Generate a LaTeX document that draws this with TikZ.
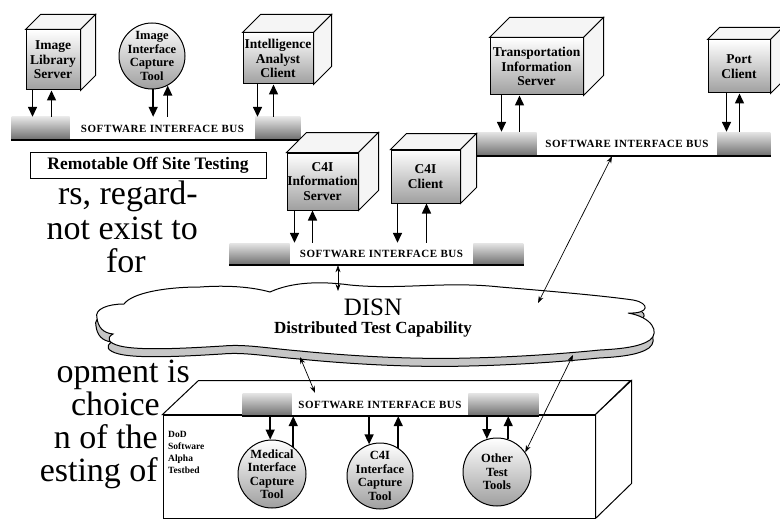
\documentclass[tikz,border=0pt]{standalone}
\usepackage{fontspec}
\setmainfont{Liberation Serif}
\usetikzlibrary{positioning,arrows.meta,calc}

\begin{document}
\begin{tikzpicture}[x=1pt,y=-1pt,
    every node/.style={font=\bfseries\fontsize{13.5}{14.5}\selectfont},
    cubeface/.style={draw,line width=1pt,top color=white,bottom color=gray!75,align=center,inner sep=0pt},
    cubeside/.style={draw,line width=1pt,fill=gray!8},
    toolcircle/.style={draw,circle,line width=1pt,top color=white,bottom color=gray!75,align=center,inner sep=-9pt,
                       font=\bfseries\fontsize{12.5}{13.5}\selectfont},
    buslabel/.style={fill=white,minimum height=23pt,inner sep=0pt,
                     font=\bfseries\fontsize{11}{11}\selectfont\addfontfeatures{LetterSpace=5}},
    busend/.style={top color=gray!20,bottom color=gray!85!black,minimum height=23pt,inner sep=0pt},
    busarrow/.style={line width=1.5pt,-{Triangle[width=9pt,length=10pt]}},
    linkarrow/.style={line width=0.7pt,{Stealth[length=7pt,width=5pt]}-{Stealth[length=7pt,width=5pt]}},
    bodytext/.style={font=\mdseries\fontsize{34}{36}\selectfont,anchor=base east,inner sep=0pt}]
    \useasboundingbox (0,0) rectangle (780,519);
    \clip (0,0) rectangle (780,519);

    % page text behind the figure
    \node[bodytext] (t1) at (198,204) {rs, regard-};
    \node[bodytext] (t2) at (198,239) {not exist to};
    \node[bodytext] (t3) at (146,272) {for};
    \node[bodytext] (t4) at (190,382) {opment is};
    \node[bodytext] (t5) at (160,415) {choice};
    \node[bodytext] (t6) at (158,448) {n of the};
    \node[bodytext] (t7) at (158,481) {esting of};

    % remote site, top left
    \node[cubeface,minimum width=54pt,minimum height=60pt] (ils) at (53,60) {Image\\Library\\Server};
    \node[toolcircle,minimum size=66pt] (iict) at (152,56) {Image\\Interface\\Capture\\Tool};
    \node[cubeface,minimum width=70pt,minimum height=51pt] (iac) at (278,58.5) {Intelligence\\Analyst\\Client};

    \node[buslabel,minimum width=185pt] (bus1) at (162.5,128.5) {SOFTWARE INTERFACE BUS};
    \node[busend,minimum width=58pt,left=0pt of bus1] (bus1w) {};
    \node[busend,minimum width=45pt,right=0pt of bus1] (bus1e) {};
    \draw[line width=2pt] (bus1w.south west) -- (bus1e.south east);

    \node[draw,line width=0.8pt,minimum width=236pt,minimum height=26pt,
          font=\bfseries\fontsize{17.5}{19}\selectfont] (remote) at (148,165) {Remotable Off Site Testing};

    % remote site, top right
    \node[cubeface,minimum width=93pt,minimum height=57pt] (tis) at (536.5,66.5) {Transportation\\Information\\Server};
    \node[cubeface,minimum width=62pt,minimum height=53pt] (pc) at (739,66.5) {Port\\Client};

    \node[buslabel,minimum width=180pt,minimum height=24pt] (bus2) at (627,144) {SOFTWARE INTERFACE BUS};
    \node[busend,minimum width=60pt,minimum height=24pt,left=0pt of bus2] (bus2w) {};
    \node[busend,minimum width=53pt,minimum height=24pt,right=0pt of bus2] (bus2e) {};
    \draw[line width=2pt] (bus2w.south west) -- (bus2e.south east);

    % C4I site, middle
    \node[cubeface,minimum width=71pt,minimum height=57pt] (cis) at (322.5,181.5) {C4I\\Information\\Server};
    \node[cubeface,minimum width=69pt,minimum height=53pt] (cc) at (425.5,176.5) {C4I\\Client};

    \node[buslabel,minimum width=183pt,minimum height=22pt] (bus3) at (381.5,254) {SOFTWARE INTERFACE BUS};
    \node[busend,minimum width=60pt,minimum height=22pt,left=0pt of bus3] (bus3w) {};
    \node[busend,minimum width=50pt,minimum height=22pt,right=0pt of bus3] (bus3e) {};
    \draw[line width=2pt] (bus3w.south west) -- (bus3e.south east);

    % cube tops and sides
    \foreach \c/\d in {ils/15,iac/18,tis/20,pc/12,cis/20,cc/16}{
        \draw[cubeside] (\c.north west) -- ++(\d,-\d) -- ([shift={(\d,-\d)}]\c.north east) -- (\c.north east) -- cycle;
        \draw[cubeside] (\c.north east) -- ++(\d,-\d) -- ([shift={(\d,-\d)}]\c.south east) -- (\c.south east) -- cycle;
    }

    % DISN cloud
    \draw[line width=1pt,fill=white,
          preaction={draw,line width=1pt,fill=gray!45,transform canvas={shift={(-1pt,-8pt)}}}]
        (97,318) .. controls (94,309) and (108,304) .. (124,304)
        .. controls (132,293) and (165,287) .. (200,287)
        .. controls (228,285) and (252,287) .. (270,292)
        .. controls (292,282) and (320,281) .. (350,285)
        .. controls (400,290) and (445,281) .. (500,287)
        .. controls (560,292) and (605,296) .. (633,300)
        .. controls (650,303) and (650,314) .. (628,313)
        .. controls (652,317) and (660,332) .. (650,340)
        .. controls (640,347) and (620,349) .. (600,350)
        .. controls (560,354) and (515,357) .. (470,358)
        .. controls (400,360) and (330,354) .. (300,351)
        .. controls (265,348) and (245,344) .. (223,346)
        .. controls (190,348) and (140,351) .. (120,346)
        .. controls (108,343) and (106,338) .. (113,334)
        .. controls (103,333) and (98,327) .. cycle;
    \node[font=\mdseries\fontsize{25}{25}\selectfont,inner sep=0pt] (disn) at (373,307) {DISN};
    \node[font=\bfseries\fontsize{17}{18}\selectfont,inner sep=0pt] (dtc) at (373,329) {Distributed Test Capability};
    \coordinate (cldtop) at (338,291);
    \coordinate (cldne) at (538,303);
    \coordinate (cldsw) at (300,357);
    \coordinate (cldse) at (573,355);

    % DoD testbed
    \node[draw,line width=1pt,fill=white,minimum width=432pt,minimum height=103pt,inner sep=0pt] (tb) at (379,466.5) {};
    \draw[line width=1pt,fill=white] (tb.north west) -- ++(36,-34) -- ++(432,0) -- (tb.north east) -- cycle;
    \draw[line width=1pt,fill=white] (tb.north east) -- ++(36,-34) -- ++(0,103) -- (tb.south east) -- cycle;
    \node[anchor=north west,align=left,inner sep=0pt,font=\bfseries\fontsize{9.5}{12}\selectfont] (dod) at (168,431) {DoD\\Software\\Alpha\\Testbed};

    \node[buslabel,minimum width=176pt] (bus4) at (380,404.5) {SOFTWARE INTERFACE BUS};
    \node[busend,minimum width=49pt,left=0pt of bus4] (bus4w) {};
    \node[busend,minimum width=70pt,right=0pt of bus4] (bus4e) {};
    \draw[line width=2pt] (bus4w.south west) -- (bus4e.south east);

    \node[toolcircle,minimum size=68pt] (med) at (272,474) {Medical\\Interface\\Capture\\Tool};
    \node[toolcircle,minimum size=66pt] (cict) at (380,476) {C4I\\Interface\\Capture\\Tool};
    \node[toolcircle,minimum size=68pt] (other) at (497,472) {Other\\Test\\Tools};

    % bus arrows
    \draw[busarrow] ([xshift=7pt]ils.south west) -- ([xshift=7pt]ils.south west |- bus1.north);
    \draw[busarrow] ([xshift=26pt]ils.south west |- bus1.north) -- ([xshift=26pt]ils.south west);
    \draw[busarrow] (iict.-88) -- (iict.-88 |- bus1.north);
    \draw[busarrow] (iict.-62 |- bus1.north) -- (iict.-62);
    \draw[busarrow] ([xshift=15pt]iac.south west) -- ([xshift=15pt]iac.south west |- bus1.north);
    \draw[busarrow] ([xshift=31pt]iac.south west |- bus1.north) -- ([xshift=31pt]iac.south west);

    \draw[busarrow] ([xshift=12pt]tis.south west) -- ([xshift=12pt]tis.south west |- bus2.north);
    \draw[busarrow] ([xshift=30pt]tis.south west |- bus2.north) -- ([xshift=30pt]tis.south west);
    \draw[busarrow] ([xshift=19pt]pc.south west) -- ([xshift=19pt]pc.south west |- bus2.north);
    \draw[busarrow] ([xshift=32pt]pc.south west |- bus2.north) -- ([xshift=32pt]pc.south west);

    \draw[busarrow] ([xshift=8pt]cis.south west) -- ([xshift=8pt]cis.south west |- bus3.north);
    \draw[busarrow] ([xshift=26pt]cis.south west |- bus3.north) -- ([xshift=26pt]cis.south west);
    \draw[busarrow] ([xshift=7pt]cc.south west) -- ([xshift=7pt]cc.south west |- bus3.north);
    \draw[busarrow] ([xshift=36pt]cc.south west |- bus3.north) -- ([xshift=36pt]cc.south west);

    \draw[busarrow] (med.93 |- bus4.south) -- (med.93);
    \draw[busarrow] (med.52) -- (med.52 |- bus4.south);
    \draw[busarrow] (cict.109 |- bus4.south) -- (cict.109);
    \draw[busarrow] (cict.57) -- (cict.57 |- bus4.south);
    \draw[busarrow] (other.107 |- bus4.south) -- (other.107);
    \draw[busarrow] (other.71) -- (other.71 |- bus4.south);

    % links through DISN
    \draw[linkarrow] (cldtop) -- (cldtop |- bus3.south);
    \draw[linkarrow] (cldne) -- ([xshift=-15pt]bus2.south);
    \draw[linkarrow] (cldsw) -- ([xshift=-65pt]bus4.north);
    \draw[linkarrow] (cldse) -- (other.35);
\end{tikzpicture}
\end{document}
